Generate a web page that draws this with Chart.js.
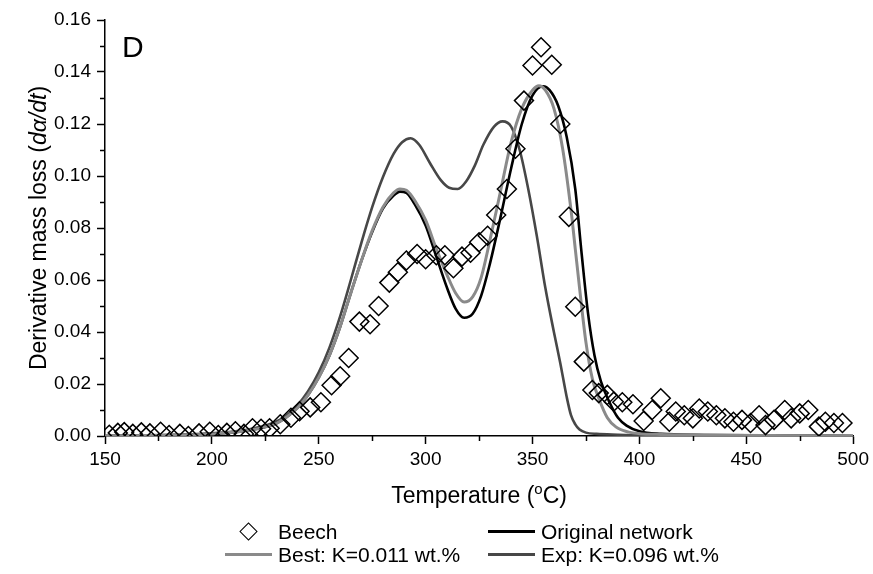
<!DOCTYPE html>
<html>
<head>
<meta charset="utf-8">
<title>Beech DTG</title>
<script src="https://cdn.jsdelivr.net/npm/chart.js@4.4.1/dist/chart.umd.min.js"></script>
<style>
    html, body { margin: 0; padding: 0; background: #fff; }
    #wrap { position: relative; width: 873px; height: 574px; }
    #legend { position: absolute; left: 0; top: 0; width: 873px; height: 574px; pointer-events: none;
        font-family: 'Liberation Sans', Arial, sans-serif; font-size: 21px; color: #000; }
    .legend-item { position: absolute; display: flex; align-items: center; height: 23px; white-space: nowrap; }
    .legend-symbol { position: relative; width: 54px; height: 23px; margin-right: 2px; }
    .legend-line { position: absolute; left: 3px; right: 4px; top: 10px; height: 3px; }
    .legend-diamond { position: absolute; left: 20px; top: 5px; width: 11px; height: 11px;
        border: 1.5px solid #000; transform: rotate(45deg); background: #fff; }
</style>
</head>
<body>
<div id="wrap">
    <canvas id="dtgChart" width="873" height="574"></canvas>
    <div id="legend"></div>
</div>
<script>
// measured points (Beech)
const beechTemps = [152, 156, 159, 163, 167, 171, 176, 180, 185, 189, 194, 199, 203, 207, 211, 215, 219, 223,
    227, 232, 237, 241, 246, 251, 256, 260, 264, 269, 274, 278, 283, 287, 291, 296, 300, 305, 309, 313, 317,
    321, 325, 329, 333, 338, 342, 346, 350, 354, 359, 363, 367, 370, 374, 378, 381, 385, 388, 392, 397, 402,
    406, 410, 414, 417, 421, 425, 428, 432, 436, 440, 444, 448, 452, 456, 459, 463, 468, 471, 475, 479, 484,
    487, 491, 495];
const beechValues = [0.0005, 0.0012, 0.0015, 0.0008, 0.0014, 0.001, 0.0016, 0.0004, 0.0008, 0.0000, 0.001,
    0.0016, 0.0004, 0.0012, 0.0018, 0.0008, 0.003, 0.0028, 0.003, 0.0045, 0.007, 0.0095, 0.011, 0.013, 0.0195,
    0.023, 0.030, 0.044, 0.043, 0.050, 0.059, 0.063, 0.0675, 0.070, 0.068, 0.0695, 0.0695, 0.0645, 0.069, 0.0705,
    0.0745, 0.077, 0.085, 0.095, 0.1105, 0.129, 0.1425, 0.1495, 0.1428, 0.120, 0.0843, 0.0497, 0.0286, 0.0177,
    0.0165, 0.0158, 0.0132, 0.013, 0.0122, 0.0058, 0.010, 0.0145, 0.0055, 0.0094, 0.008, 0.0068, 0.0106, 0.0094,
    0.008, 0.0068, 0.0055, 0.0062, 0.005, 0.008, 0.0042, 0.0062, 0.010, 0.0068, 0.0087, 0.010, 0.0036, 0.0055,
    0.005, 0.005];

// Original network
const originalTemps = [150, 170, 190, 200, 210, 215, 220, 225, 230, 235, 240, 245, 250, 255, 260, 265, 270, 275,
    280, 285, 288, 291, 295, 300, 305, 310, 314, 318, 322, 326, 330, 335, 340, 345, 350, 355, 358, 362, 366, 370,
    373, 376, 379, 382, 386, 390, 394, 400, 410, 430, 460, 500];
const originalValues = [0, 0.0002, 0.0005, 0.0008, 0.0014, 0.0019, 0.0026, 0.0035, 0.0048, 0.0073, 0.0108,
    0.0158, 0.0225, 0.031, 0.042, 0.055, 0.0675, 0.0785, 0.0875, 0.0925, 0.094, 0.0935, 0.089, 0.081, 0.069,
    0.057, 0.049, 0.0455, 0.047, 0.054, 0.066, 0.084, 0.103, 0.120, 0.131, 0.1345, 0.133, 0.127, 0.115, 0.095,
    0.070, 0.047, 0.031, 0.021, 0.013, 0.007, 0.004, 0.0018, 0.0008, 0.0004, 0.0002, 0];

// Best: K=0.011 wt.%
const bestTemps = [150, 170, 190, 200, 210, 215, 220, 225, 230, 235, 240, 245, 250, 255, 260, 265, 270, 275, 280,
    285, 288, 291, 295, 300, 305, 310, 314, 318, 322, 326, 330, 335, 340, 345, 350, 353, 356, 360, 364, 368, 370,
    372, 375, 378, 381, 385, 389, 395, 400, 410, 430, 460, 500];
const bestValues = [0, 0.0002, 0.0005, 0.0008, 0.0014, 0.0019, 0.0026, 0.0035, 0.0048, 0.0073, 0.0108, 0.0158,
    0.0225, 0.031, 0.042, 0.055, 0.0675, 0.079, 0.088, 0.0935, 0.095, 0.0945, 0.0905, 0.083, 0.072, 0.062, 0.055,
    0.0515, 0.0535, 0.061, 0.075, 0.094, 0.113, 0.126, 0.133, 0.1347, 0.133, 0.126, 0.111, 0.087, 0.072, 0.057,
    0.036, 0.022, 0.0145, 0.007, 0.0035, 0.0015, 0.0009, 0.0006, 0.0004, 0.0002, 0];

// Exp: K=0.096 wt.%
const expTemps = [150, 170, 190, 200, 210, 220, 230, 235, 240, 245, 250, 255, 260, 265, 270, 275, 280, 285, 289,
    293, 297, 302, 307, 311, 315, 319, 323, 327, 332, 336, 340, 344, 348, 352, 356, 360, 363, 366, 368, 370, 372,
    375, 380, 390, 400, 430, 460, 500];
const expValues = [0, 0.0002, 0.0006, 0.001, 0.0017, 0.003, 0.0055, 0.008, 0.0118, 0.0172, 0.0245, 0.034, 0.046,
    0.060, 0.0745, 0.088, 0.0995, 0.1085, 0.113, 0.1145, 0.112, 0.105, 0.0985, 0.0955, 0.095, 0.098, 0.104,
    0.112, 0.119, 0.121, 0.119, 0.110, 0.095, 0.077, 0.057, 0.040, 0.028, 0.015, 0.008, 0.0045, 0.0025, 0.0013,
    0.0008, 0.0005, 0.0003, 0.0002, 0.0001, 0];

const xMajorTicks = [150, 200, 250, 300, 350, 400, 450, 500];
const xMinorTicks = [175, 225, 275, 325, 375, 425, 475];
const yMajorTicks = [0, 0.02, 0.04, 0.06, 0.08, 0.10, 0.12, 0.14, 0.16];
const yMinorTicks = [0.01, 0.03, 0.05, 0.07, 0.09, 0.11, 0.13, 0.15];

const FONT = "'Liberation Sans', Arial, sans-serif";

function toPoints(xs, ys) {
    return xs.map((x, i) => ({ x: x, y: ys[i] }));
}

function curveDataset(label, xs, ys, color, width, order) {
    return {
        label: label,
        data: toPoints(xs, ys),
        showLine: true,
        borderColor: color,
        backgroundColor: color,
        borderWidth: width,
        pointRadius: 0,
        cubicInterpolationMode: 'monotone',
        order: order
    };
}

// small tick marks between the labelled ones
const minorTicks = {
    id: 'minorTicks',
    afterDraw(chart) {
        const { ctx, chartArea, scales: { x, y } } = chart;
        ctx.save();
        ctx.strokeStyle = '#000';
        ctx.lineWidth = 1.5;
        ctx.beginPath();
        xMinorTicks.forEach(v => {
            const px = Math.round(x.getPixelForValue(v)) + 0.5;
            ctx.moveTo(px, chartArea.bottom);
            ctx.lineTo(px, chartArea.bottom + 5);
        });
        yMinorTicks.forEach(v => {
            const py = Math.round(y.getPixelForValue(v)) + 0.5;
            ctx.moveTo(chartArea.left, py);
            ctx.lineTo(chartArea.left - 5, py);
        });
        ctx.stroke();
        ctx.restore();
    }
};

function drawRuns(ctx, runs, cx, baseY) {
    let total = 0;
    runs.forEach(r => {
        ctx.font = r.font;
        r.w = ctx.measureText(r.text).width;
        total += r.w;
    });
    let pos = cx - total / 2;
    runs.forEach(r => {
        ctx.font = r.font;
        ctx.fillText(r.text, pos, baseY + (r.rise || 0));
        pos += r.w;
    });
}

// axis titles with italic / superscript parts, plus the panel letter
const axisTitles = {
    id: 'axisTitles',
    afterDraw(chart) {
        const { ctx, chartArea } = chart;
        ctx.save();
        ctx.fillStyle = '#000';
        ctx.textBaseline = 'alphabetic';
        ctx.textAlign = 'left';

        const xMid = (chartArea.left + chartArea.right) / 2;
        drawRuns(ctx, [
            { text: 'Temperature (', font: `23px ${FONT}` },
            { text: 'o', font: `15px ${FONT}`, rise: -9 },
            { text: 'C)', font: `23px ${FONT}` }
        ], xMid, chartArea.bottom + 67);

        const yMid = (chartArea.top + chartArea.bottom) / 2;
        ctx.translate(46, yMid);
        ctx.rotate(-Math.PI / 2);
        drawRuns(ctx, [
            { text: 'Derivative mass loss (', font: `23px ${FONT}` },
            { text: 'd\u03b1/dt', font: `italic 23px ${FONT}` },
            { text: ')', font: `23px ${FONT}` }
        ], 0, 0);
        ctx.restore();

        ctx.save();
        ctx.fillStyle = '#000';
        ctx.font = `30px ${FONT}`;
        ctx.textBaseline = 'alphabetic';
        ctx.fillText('D', chartArea.left + 17, chartArea.top + 37);
        ctx.restore();
    }
};

const datasets = [
    {
        label: 'Beech',
        data: toPoints(beechTemps, beechValues),
        showLine: false,
        pointStyle: 'rectRot',
        pointRadius: 9.5,
        pointBorderWidth: 1.5,
        pointBorderColor: '#000',
        pointBackgroundColor: 'rgba(255,255,255,0)',
        borderColor: '#000',
        clip: 0,
        order: 0
    },
    curveDataset('Original network', originalTemps, originalValues, '#000000', 2.6, 2),
    curveDataset('Best: K=0.011 wt.%', bestTemps, bestValues, '#8a8a8a', 3, 1),
    curveDataset('Exp: K=0.096 wt.%', expTemps, expValues, '#474747', 2.6, 3)
];

const ctx = document.getElementById('dtgChart');
Chart.defaults.font.family = FONT;
Chart.defaults.color = '#000';

const chart = new Chart(ctx.getContext('2d'), {
    type: 'scatter',
    data: { datasets: datasets },
    options: {
        responsive: false,
        animation: false,
        layout: { padding: { left: 0, right: 18, top: 20, bottom: 98 } },
        plugins: {
            legend: { display: false },
            tooltip: { enabled: false }
        },
        scales: {
            x: {
                type: 'linear',
                min: 150,
                max: 500,
                afterBuildTicks: scale => { scale.ticks = xMajorTicks.map(v => ({ value: v })); },
                afterFit: scale => { scale.height = 40; },
                ticks: {
                    font: { size: 19 },
                    padding: 4,
                    maxRotation: 0,
                    callback: v => String(v)
                },
                grid: {
                    drawOnChartArea: false,
                    drawTicks: true,
                    tickLength: 8,
                    tickColor: '#000',
                    tickWidth: 1.5
                },
                border: { display: true, color: '#000', width: 1.5 }
            },
            y: {
                type: 'linear',
                min: 0,
                max: 0.16,
                afterBuildTicks: scale => { scale.ticks = yMajorTicks.map(v => ({ value: v })); },
                afterFit: scale => { scale.width = 105; },
                ticks: {
                    font: { size: 19 },
                    padding: 6,
                    callback: v => Number(v).toFixed(2)
                },
                grid: {
                    drawOnChartArea: false,
                    drawTicks: true,
                    tickLength: 8,
                    tickColor: '#000',
                    tickWidth: 1.5
                },
                border: { display: true, color: '#000', width: 1.5 }
            }
        }
    },
    plugins: [minorTicks, axisTitles]
});

// legend laid out in two fixed columns, as in the original figure
function buildLegend(chartRef) {
    const legend = document.getElementById('legend');
    legend.innerHTML = '';
    const slots = [
        { left: 222, top: 520 },
        { left: 485, top: 520 },
        { left: 222, top: 543 },
        { left: 485, top: 543 }
    ];
    chartRef.data.datasets.forEach((ds, i) => {
        const item = document.createElement('div');
        item.className = 'legend-item';
        item.style.left = slots[i].left + 'px';
        item.style.top = slots[i].top + 'px';

        const symbol = document.createElement('span');
        symbol.className = 'legend-symbol';
        const mark = document.createElement('span');
        if (ds.showLine) {
            mark.className = 'legend-line';
            mark.style.background = ds.borderColor;
        } else {
            mark.className = 'legend-diamond';
        }
        symbol.appendChild(mark);

        const text = document.createElement('span');
        text.textContent = ds.label;

        item.appendChild(symbol);
        item.appendChild(text);
        legend.appendChild(item);
    });
}

buildLegend(chart);
</script>
</body>
</html>
